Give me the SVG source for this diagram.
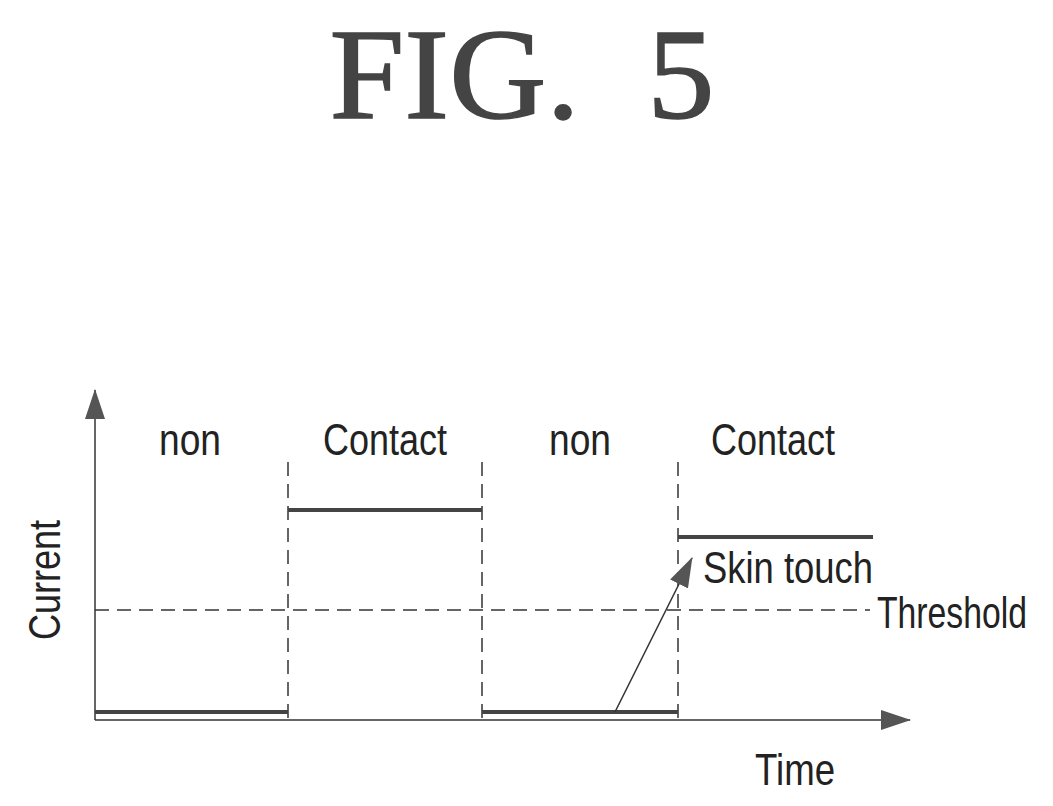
<svg xmlns="http://www.w3.org/2000/svg" width="1053" height="806" viewBox="0 0 1053 806">
<defs>
<marker id="big" markerWidth="30" markerHeight="20" refX="29" refY="10" orient="auto" markerUnits="userSpaceOnUse" viewBox="0 0 30 20"><path d="M0,0 L30,10 L0,20 Z" fill="#555"/></marker>
</defs>
<style>
.t{font-family:"Liberation Sans",Arial,sans-serif;font-size:44px;fill:#222}
.d{stroke:#333;stroke-width:1.5;stroke-dasharray:14,8;fill:none}
.s{stroke:#444;stroke-width:4;fill:none}
</style>
<rect width="1053" height="806" fill="#fff"/>
<text x="522" y="118" text-anchor="middle" font-family="Liberation Serif,serif" font-size="130" fill="#444" stroke="#444" stroke-width="1.5" xml:space="preserve" textLength="385" lengthAdjust="spacingAndGlyphs">FIG.  5</text>
<g id="connectors">
<line x1="95" y1="720" x2="95" y2="390" stroke="#333" stroke-width="1.5" marker-end="url(#big)"/>
<line x1="95" y1="720" x2="910" y2="720" stroke="#333" stroke-width="1.5" marker-end="url(#big)"/>
<line class="d" x1="288" y1="462" x2="288" y2="720"/>
<line class="d" x1="482" y1="462" x2="482" y2="720"/>
<line class="d" x1="678" y1="462" x2="678" y2="720"/>
<line class="d" x1="95" y1="610" x2="870" y2="610"/>
<line class="s" x1="95" y1="712" x2="288" y2="712"/>
<line class="s" x1="288" y1="510" x2="482" y2="510"/>
<line class="s" x1="482" y1="712" x2="678" y2="712"/>
<line class="s" x1="678" y1="537" x2="873" y2="537"/>
<line x1="615" y1="712" x2="692" y2="558" stroke="#333" stroke-width="1.5" marker-end="url(#big)"/>
</g>
<g id="labels">
<text class="t" x="190" y="455" text-anchor="middle" textLength="62" lengthAdjust="spacingAndGlyphs">non</text>
<text class="t" x="385" y="455" text-anchor="middle" textLength="124" lengthAdjust="spacingAndGlyphs">Contact</text>
<text class="t" x="580" y="455" text-anchor="middle" textLength="62" lengthAdjust="spacingAndGlyphs">non</text>
<text class="t" x="773" y="455" text-anchor="middle" textLength="124" lengthAdjust="spacingAndGlyphs">Contact</text>
<text class="t" x="703" y="583" textLength="170" lengthAdjust="spacingAndGlyphs">Skin touch</text>
<text class="t" x="877" y="628" textLength="150" lengthAdjust="spacingAndGlyphs">Threshold</text>
<text class="t" x="755" y="785" textLength="80" lengthAdjust="spacingAndGlyphs">Time</text>
<text class="t" transform="translate(60,580) rotate(-90)" text-anchor="middle" textLength="120" lengthAdjust="spacingAndGlyphs">Current</text>
</g>
</svg>
